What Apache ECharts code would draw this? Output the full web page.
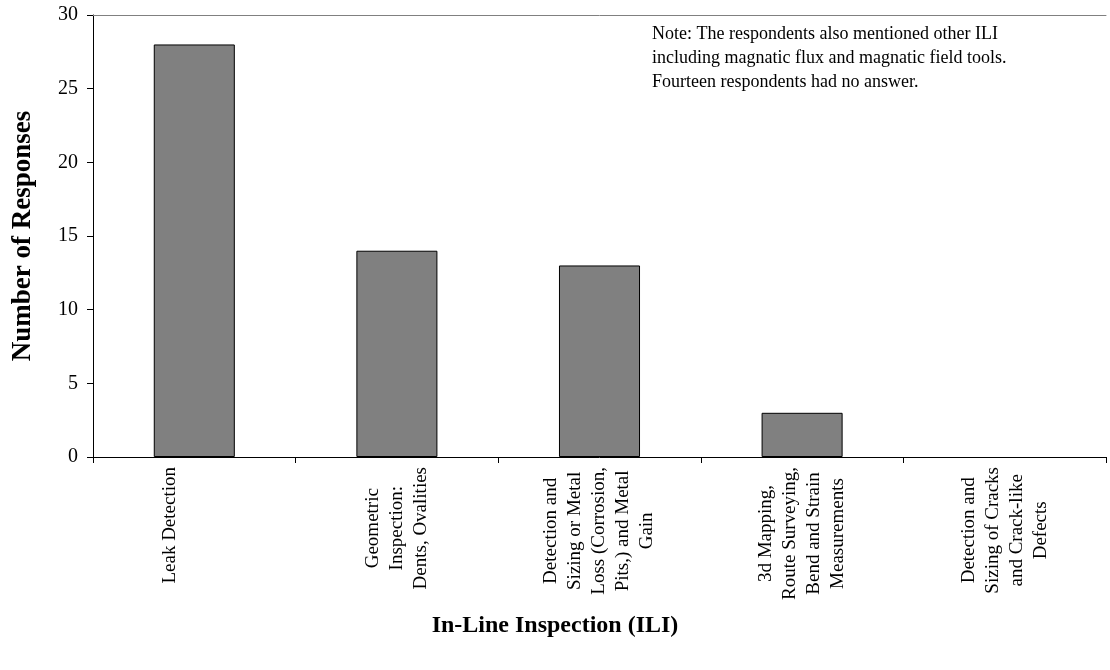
<!DOCTYPE html>
<html>
<head>
<meta charset="utf-8">
<script src="https://cdn.jsdelivr.net/npm/echarts@6/dist/echarts.min.js"></script>
<style>
html,body{margin:0;padding:0;background:#fff;}
#chart{width:1110px;height:670px;}
</style>
</head>
<body>
<div id="chart"></div>
<script>
const categories = [
  "Leak Detection",
  "Geometric\nInspection:\nDents, Ovalities",
  "Detection and\nSizing or Metal\nLoss (Corrosion,\nPits,) and Metal\nGain",
  "3d Mapping,\nRoute Surveying,\nBend and Strain\nMeasurements",
  "Detection and\nSizing of Cracks\nand Crack-like\nDefects"
];
const responses = [28, 14, 13, 3, 0];
const yTicks = [0, 5, 10, 15, 20, 25, 30];
const noteText = "Note: The respondents also mentioned other ILI\nincluding magnatic flux and magnatic field tools.\nFourteen respondents had no answer.";
const xTitle = "In-Line Inspection (ILI)";
const yTitle = "Number of Responses";

const FONT = "Liberation Serif";
const chart = echarts.init(document.getElementById('chart'), null, {renderer: 'canvas'});
chart.setOption({
  animation: false,
  backgroundColor: '#fff',
  grid: {left: 93, top: 15, right: 4, bottom: 213, containLabel: false},
  xAxis: [{
    type: 'category',
    data: categories,
    position: 'bottom',
    boundaryGap: true,
    axisLine: {lineStyle: {color: '#000', width: 1}},
    axisTick: {show: true, length: 6, alignWithLabel: false, lineStyle: {color: '#000'}},
    axisLabel: {
      interval: 0,
      rotate: 90,
      margin: 10,
      color: '#000',
      fontFamily: FONT,
      fontSize: 19,
      lineHeight: 24,
      formatter: function (v) {
        let lines = v.split('\n');
        if (lines.length === 1) { lines = lines.concat([' ', ' ']); }
        return lines.map(function (l) { return '{c|' + l + '}'; }).join('\n');
      },
      rich: {c: {align: 'center', fontFamily: FONT, fontSize: 19, lineHeight: 24, color: '#000'}}
    }
  }, {
    type: 'category',
    data: categories,
    position: 'top',
    axisLine: {lineStyle: {color: '#808080', width: 1}},
    axisTick: {show: false},
    axisLabel: {show: false}
  }],
  yAxis: {
    type: 'value',
    min: yTicks[0],
    max: yTicks[yTicks.length - 1],
    interval: 5,
    axisLine: {show: true, lineStyle: {color: '#000', width: 1}},
    axisTick: {show: true, length: 6, lineStyle: {color: '#000'}},
    splitLine: {show: false},
    axisLabel: {color: '#000', fontFamily: FONT, fontSize: 20, margin: 15},
    name: yTitle,
    nameLocation: 'middle',
    nameRotate: 90,
    nameGap: 56,
    nameTextStyle: {fontFamily: FONT, fontWeight: 'bold', fontSize: 27, color: '#000'}
  },
  series: [{
    type: 'bar',
    data: responses.map(function (v) {
      return {value: v, itemStyle: {borderWidth: v === 0 ? 0 : 1}};
    }),
    barWidth: '40%',
    itemStyle: {color: '#808080', borderColor: '#000', borderWidth: 1}
  }],
  graphic: [{
    type: 'text',
    left: 652,
    top: 22,
    style: {
      text: noteText,
      fontFamily: FONT,
      fontSize: 18,
      lineHeight: 24,
      fill: '#000'
    }
  }, {
    type: 'text',
    left: 'center',
    top: 614,
    style: {
      text: xTitle,
      fontFamily: FONT,
      fontWeight: 'bold',
      fontSize: 24,
      fill: '#000'
    }
  }]
});
</script>
</body>
</html>
